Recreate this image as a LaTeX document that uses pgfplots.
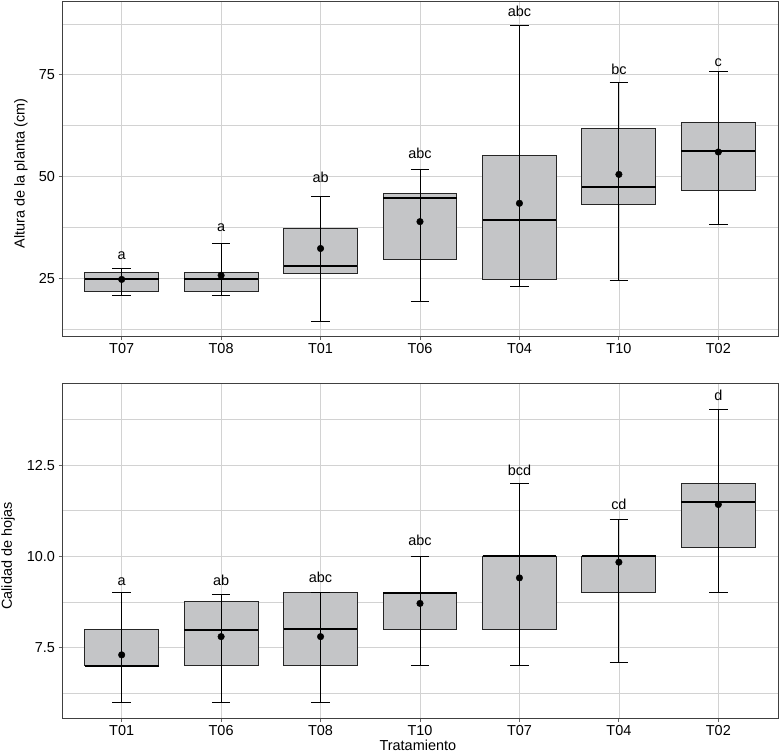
\documentclass[border=0pt]{standalone}
\usepackage{fontspec}
\setmainfont{Liberation Sans}
\usepackage{pgfplots}
\pgfplotsset{compat=1.18}
\usepgfplotslibrary{statistics}
\definecolor{boxfill}{RGB}{196,197,199}
\definecolor{gridc}{RGB}{210,210,210}
\newcommand{\lbl}{\fontsize{14.5}{16}\selectfont}

\pgfplotsset{
  panel/.style={
    scale only axis,
    width=716bp,
    xmin=0.4, xmax=7.6,
    xtick={1,2,3,4,5,6,7},
    grid=both,
    major grid style={gridc, line width=0.6bp},
    minor grid style={gridc, line width=0.5bp},
    axis line style={black!75, line width=1bp},
    tick style={black!60, line width=0.8bp},
    major tick length=3.5bp,
    minor tick length=0pt,
    tick align=outside,
    xtick pos=left,
    ytick pos=left,
    tick label style={font=\lbl},
    label style={font=\lbl},
  },
  bx/.style={
    draw=black!85, fill=boxfill, line width=1bp, forget plot,
    boxplot/draw direction=y,
    boxplot/box extend=0.742,
    boxplot/whisker extend=0,
    boxplot/every median/.style={line width=2bp, draw=black},
  },
  wh/.style={
    draw=none, mark=none, forget plot,
    error bars/.cd, y dir=both, y explicit,
    error bar style={draw=black, line width=0.8bp},
    error mark options={draw=black, line width=0.8bp, mark size=9.2bp, rotate=90},
  },
  mn/.style={only marks, mark=*, mark size=3.3bp, black, forget plot},
  let/.style={only marks, mark=*, mark size=0pt, mark options={draw=none, fill=none},
    forget plot, nodes near coords, point meta=explicit symbolic,
    every node near coord/.append style={anchor=base, font=\lbl, inner sep=0pt, text=black}},
}

\begin{document}
\begin{tikzpicture}
\useasboundingbox (0,0) rectangle (779bp,-754bp);

% panel 1: Altura de la planta
\begin{axis}[panel,
  at={(62bp,-1bp)}, anchor=north west,
  height=335bp,
  ymin=10.8, ymax=93.1,
  ytick={25,50,75}, yticklabels={25,50,75},
  minor ytick={12.5,37.5,62.5,87.5},
  xticklabels={T07,T08,T01,T06,T04,T10,T02},
  ylabel={Altura de la planta (cm)},
  ylabel style={at={(axis description cs:-0.0573,0.485)}, anchor=center},
]
\addplot[bx, boxplot prepared={draw position=1, lower whisker=20.7, lower quartile=21.7, median=24.8, upper quartile=26.5, upper whisker=27.4}] coordinates {};
\addplot[bx, boxplot prepared={draw position=2, lower whisker=20.8, lower quartile=21.7, median=24.9, upper quartile=26.5, upper whisker=33.6}] coordinates {};
\addplot[bx, boxplot prepared={draw position=3, lower whisker=14.5, lower quartile=26.1, median=28.0, upper quartile=37.3, upper whisker=45.1}] coordinates {};
\addplot[bx, boxplot prepared={draw position=4, lower whisker=19.4, lower quartile=29.7, median=44.6, upper quartile=45.9, upper whisker=51.7}] coordinates {};
\addplot[bx, boxplot prepared={draw position=5, lower whisker=23.0, lower quartile=24.7, median=39.4, upper quartile=55.1, upper whisker=87.0}] coordinates {};
\addplot[bx, boxplot prepared={draw position=6, lower whisker=24.5, lower quartile=43.1, median=47.5, upper quartile=61.7, upper whisker=73.0}] coordinates {};
\addplot[bx, boxplot prepared={draw position=7, lower whisker=38.3, lower quartile=46.6, median=56.3, upper quartile=63.3, upper whisker=75.7}] coordinates {};
% whiskers through the boxes
\addplot[wh] coordinates {
  (1,20.7) += (0,6.7) -= (0,0)
  (2,20.8) += (0,12.8) -= (0,0)
  (3,14.5) += (0,30.6) -= (0,0)
  (4,19.4) += (0,32.3) -= (0,0)
  (5,23.0) += (0,64.0) -= (0,0)
  (6,24.5) += (0,48.5) -= (0,0)
  (7,38.3) += (0,37.4) -= (0,0)
};
% means
\addplot[mn] coordinates {(1,24.7) (2,25.7) (3,32.3) (4,38.9) (5,43.4) (6,50.5) (7,56.0)};
% letters
\addplot[let] coordinates {
  (1,29.6) [a]
  (2,36.5) [a]
  (3,48.4) [ab]
  (4,54.5) [abc]
  (5,89.3) [abc]
  (6,75.0) [bc]
  (7,77.0) [c]
};
\end{axis}

% panel 2: Calidad de hojas
\begin{axis}[panel,
  at={(62bp,-383bp)}, anchor=north west,
  height=335bp,
  ymin=5.57, ymax=14.75,
  ytick={7.5,10,12.5}, yticklabels={7.5,10.0,12.5},
  minor ytick={6.25,8.75,11.25,13.75},
  xticklabels={T01,T06,T08,T10,T07,T04,T02},
  ylabel={Calidad de hojas},
  ylabel style={at={(axis description cs:-0.0754,0.4836)}, anchor=center},
  xlabel={Tratamiento},
  xlabel style={at={(axis description cs:0.497,-0.081)}, anchor=center},
]
\addplot[bx, boxplot prepared={draw position=1, lower whisker=6.0, lower quartile=7.0, median=7.0, upper quartile=8.0, upper whisker=9.0}] coordinates {};
\addplot[bx, boxplot prepared={draw position=2, lower whisker=6.0, lower quartile=7.0, median=7.97, upper quartile=8.75, upper whisker=8.97}] coordinates {};
\addplot[bx, boxplot prepared={draw position=3, lower whisker=6.0, lower quartile=7.0, median=8.0, upper quartile=9.0, upper whisker=9.0}] coordinates {};
\addplot[bx, boxplot prepared={draw position=4, lower whisker=7.0, lower quartile=8.0, median=9.0, upper quartile=9.0, upper whisker=10.0}] coordinates {};
\addplot[bx, boxplot prepared={draw position=5, lower whisker=7.0, lower quartile=8.0, median=10.0, upper quartile=10.0, upper whisker=12.0}] coordinates {};
\addplot[bx, boxplot prepared={draw position=6, lower whisker=7.1, lower quartile=9.0, median=10.0, upper quartile=10.0, upper whisker=11.0}] coordinates {};
\addplot[bx, boxplot prepared={draw position=7, lower whisker=9.0, lower quartile=10.23, median=11.5, upper quartile=12.0, upper whisker=14.03}] coordinates {};
\addplot[wh] coordinates {
  (1,6.0) += (0,3.0) -= (0,0)
  (2,6.0) += (0,2.97) -= (0,0)
  (3,6.0) += (0,3.0) -= (0,0)
  (4,7.0) += (0,3.0) -= (0,0)
  (5,7.0) += (0,5.0) -= (0,0)
  (6,7.1) += (0,3.9) -= (0,0)
  (7,9.0) += (0,5.03) -= (0,0)
};
\addplot[mn] coordinates {(1,7.3) (2,7.8) (3,7.8) (4,8.71) (5,9.41) (6,9.84) (7,11.42)};
\addplot[let] coordinates {
  (1,9.21) [a]
  (2,9.21) [ab]
  (3,9.29) [abc]
  (4,10.30) [abc]
  (5,12.22) [bcd]
  (6,11.29) [cd]
  (7,14.26) [d]
};
\end{axis}
\end{tikzpicture}
\end{document}
